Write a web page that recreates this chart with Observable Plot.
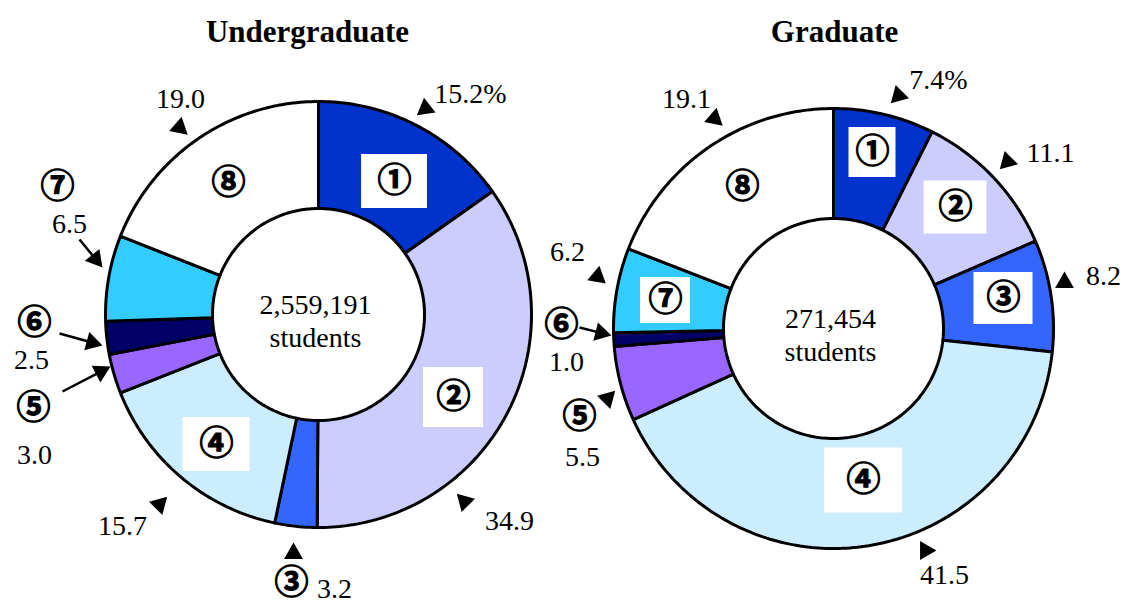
<!DOCTYPE html>
<html>
<head>
<meta charset="utf-8">
<script src="https://cdn.jsdelivr.net/npm/d3@7"></script>
<script src="https://cdn.jsdelivr.net/npm/@observablehq/plot@0.6"></script>
<style>
  body { margin: 0; background: #fff; }
  #chart svg { display: block; }
</style>
</head>
<body>
<div id="chart"></div>
<script>
// Share of students (%) by field, numbered ①–⑧ clockwise from twelve o'clock
const fields = ["①", "②", "③", "④", "⑤", "⑥", "⑦", "⑧"];
const fieldColors = ["#0033CC", "#CCCCFF", "#3366FF", "#CCECFF", "#9966FF", "#000066", "#33CCFF", "#FFFFFF"];
const undergraduateShare = [15.2, 34.9, 3.2, 15.7, 3.0, 2.5, 6.5, 19.0];
const graduateShare = [7.4, 11.1, 8.2, 41.5, 5.5, 1.0, 6.2, 19.1];
const panelTitles = ["Undergraduate", "Graduate"];
const panelTotals = ["2,559,191", "271,454"];

// Ring geometry and hand-placed callouts for each panel (pixel units)
const panels = [
  {
    shares: undergraduateShare, title: panelTitles[0], total: panelTotals[0],
    cx: 318, cy: 314, R: 213, r: 106, titleX: 307,
    callouts: [
      {num: [394, 181], box: [66, 54], val: [470, 102], tri: [425, 108, 232]},
      {num: [453, 397], box: [60, 60], val: [509, 529], tri: [464, 501, 315]},
      {num: [291, 583], val: [334, 597], tri: [293, 553, 0]},
      {num: [216, 444], box: [67, 54], val: [122, 534], tri: [159, 504, 45]},
      {num: [33, 408], val: [34, 463], arrow: [62, 391, 110, 366]},
      {num: [34, 323], val: [31, 368], arrow: [59, 333, 102, 345]},
      {num: [57, 187], val: [69, 232], arrow: [79, 239, 102, 267]},
      {num: [228, 183], val: [180, 107], tri: [179, 127, 131]}
    ]
  },
  {
    shares: graduateShare, title: panelTitles[1], total: panelTotals[1],
    cx: 833, cy: 328, R: 220, r: 110, titleX: 834,
    callouts: [
      {num: [872, 152], box: [47, 50], val: [938, 88], tri: [898, 95, 225]},
      {num: [955, 207], box: [63, 53], val: [1050, 161], tri: [1007, 161, 225]},
      {num: [1003, 298], box: [59, 52], val: [1103, 284], tri: [1064, 282, 0]},
      {num: [863, 480], box: [78, 65], val: [944, 583], tri: [925, 550, 90]},
      {num: [579, 417], val: [582, 465], tri: [607, 398, 45]},
      {num: [561, 325], val: [566, 370], arrow: [579, 327, 611, 335]},
      {num: [665, 300], box: [50, 46], val: [567, 260], tri: [597, 276, 10]},
      {num: [742, 187], val: [686, 107], tri: [714, 118, 131]}
    ]
  }
];

// Ring slices as closed outlines: outer arc forward, inner arc back
const slicePoints = [];
const boxes = [], numbers = [], values = [], triangles = [], leaders = [], centers = [], titles = [];
const TRI_R = 7;
const tipOffset = 2 * Math.sqrt((Math.PI * TRI_R * TRI_R) / (Math.sqrt(3) * 3));

panels.forEach((p, pi) => {
  const sum = d3.sum(p.shares);
  let acc = 0;
  p.shares.forEach((v, i) => {
    const a0 = (acc / sum) * 2 * Math.PI;
    acc += v;
    const a1 = (acc / sum) * 2 * Math.PI;
    const n = Math.max(2, Math.ceil((a1 - a0) / (Math.PI / 180)));
    const key = `${pi}-${i}`;
    for (let k = 0; k <= n; ++k) {
      const a = a0 + ((a1 - a0) * k) / n;
      slicePoints.push({key, fill: fieldColors[i], x: p.cx + p.R * Math.sin(a), y: p.cy - p.R * Math.cos(a)});
    }
    for (let k = n; k >= 0; --k) {
      const a = a0 + ((a1 - a0) * k) / n;
      slicePoints.push({key, fill: fieldColors[i], x: p.cx + p.r * Math.sin(a), y: p.cy - p.r * Math.cos(a)});
    }

    const c = p.callouts[i];
    if (c.box) boxes.push({x1: c.num[0] - c.box[0] / 2, x2: c.num[0] + c.box[0] / 2, y1: c.num[1] - c.box[1] / 2, y2: c.num[1] + c.box[1] / 2});
    numbers.push({x: c.num[0], y: c.num[1], text: fields[i]});
    values.push({x: c.val[0], y: c.val[1], text: v.toFixed(1) + (i === 0 ? "%" : "")});
    if (c.tri) triangles.push({x: c.tri[0], y: c.tri[1], rotate: c.tri[2]});
    if (c.arrow) {
      const [x1, y1, x2, y2] = c.arrow;
      const len = Math.hypot(x2 - x1, y2 - y1);
      const ux = (x2 - x1) / len, uy = (y2 - y1) / len;
      const tx = x2 - ux * tipOffset, ty = y2 - uy * tipOffset;
      leaders.push({x1, y1, x2: tx, y2: ty});
      triangles.push({x: tx, y: ty, rotate: (Math.atan2(ux, -uy) * 180) / Math.PI});
    }
  });
  centers.push({x: p.cx - 3, y: p.cy - 1, text: p.total});
  centers.push({x: p.cx - 3, y: p.cy + 32, text: "students"});
  titles.push({x: p.titleX, y: 41, text: p.title});
});

const serif = "'Liberation Serif', 'Times New Roman', serif";
const circled = "'Noto Sans CJK JP', 'DejaVu Sans', sans-serif";

const chart = Plot.plot({
  width: 1125,
  height: 605,
  margin: 0,
  x: {domain: [0, 1125], range: [0, 1125], axis: null},
  y: {domain: [0, 605], range: [0, 605], axis: null},
  color: {type: "identity"},
  marks: [
    Plot.line(slicePoints, {x: "x", y: "y", z: "key", fill: "fill", stroke: "black", strokeWidth: 3, curve: "linear-closed", strokeLinejoin: "miter"}),
    Plot.rect(boxes, {x1: "x1", x2: "x2", y1: "y1", y2: "y2", fill: "white"}),
    Plot.text(numbers, {x: "x", y: "y", text: "text", fontFamily: circled, fontWeight: "bold", fontSize: 34, lineAnchor: "middle", fill: "black", stroke: "black", strokeWidth: 1.1}),
    Plot.text(centers, {x: "x", y: "y", text: "text", fontFamily: serif, fontSize: 28, lineAnchor: "bottom", fill: "black"}),
    Plot.text(values, {x: "x", y: "y", text: "text", fontFamily: serif, fontSize: 28, lineAnchor: "bottom", fill: "black"}),
    Plot.text(titles, {x: "x", y: "y", text: "text", fontFamily: serif, fontWeight: "bold", fontSize: 31, lineAnchor: "bottom", fill: "black"}),
    Plot.link(leaders, {x1: "x1", y1: "y1", x2: "x2", y2: "y2", stroke: "black", strokeWidth: 2.5}),
    Plot.dot(triangles, {x: "x", y: "y", rotate: "rotate", symbol: "triangle", r: TRI_R, fill: "black", stroke: "none"})
  ]
});

document.getElementById("chart").append(chart);
</script>
</body>
</html>
